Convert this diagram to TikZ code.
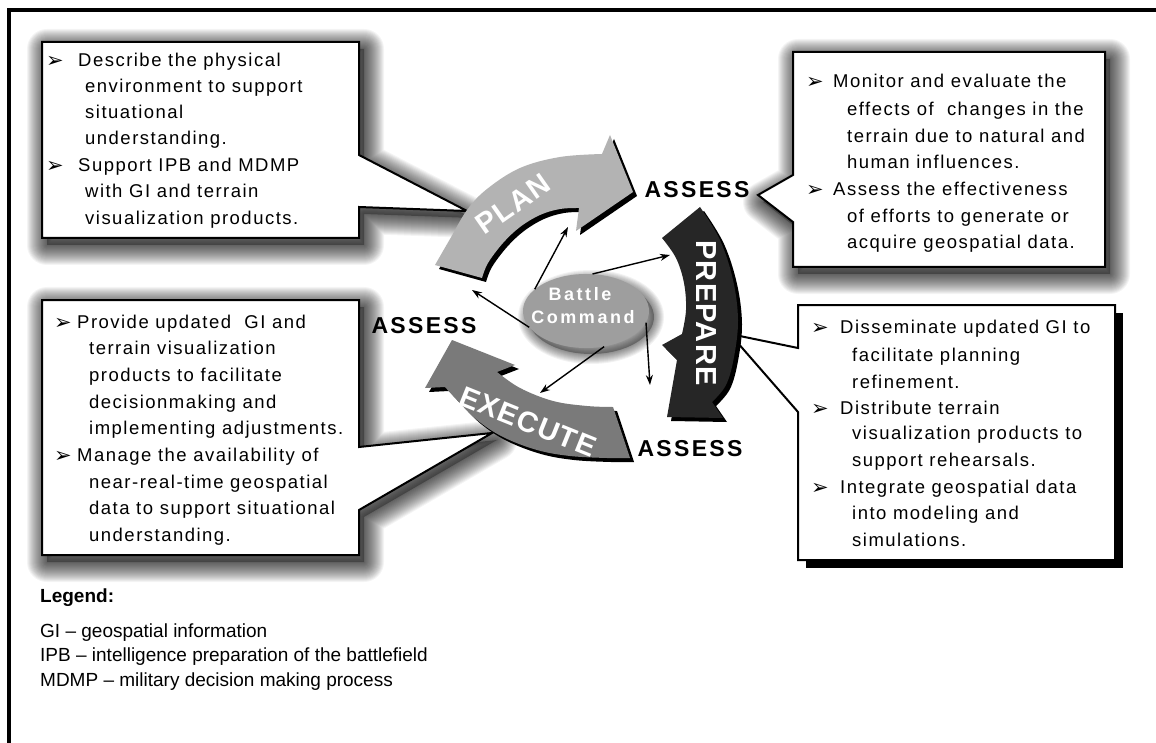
\documentclass[tikz,border=0pt]{standalone}
\usepackage{fontspec}
\usepackage{pdfrender}
\setmainfont{Liberation Sans}
\newfontfamily\boxfont{Liberation Sans}[LetterSpace=8]
\newfontfamily\wideboldfont{Liberation Sans}[LetterSpace=10]
\newfontfamily\bcfont{Liberation Sans Bold}[LetterSpace=14]
\newfontfamily\bigfont{Liberation Sans Bold}[LetterSpace=4]
\newfontfamily\dejavu{DejaVu Sans}
\usetikzlibrary{arrows.meta,shapes.geometric}
\definecolor{plangray}{HTML}{B3B3B3}
\definecolor{execgray}{HTML}{7A7A7A}
\definecolor{prepgray}{HTML}{262626}
\definecolor{ellgray}{HTML}{9E9E9E}
\newcommand\outlined[2]{{\special{pdf:bcolor [1] [0.1]}\textpdfrender{TextRenderingMode=FillStroke,LineWidth=#1,LineJoinStyle=1}{#2}\special{pdf:ecolor}}}
\tikzset{
  boxtext/.style={font=\boxfont\fontsize{18.5}{22}\selectfont, inner sep=0pt, anchor=base west},
  bulletmark/.style={font=\dejavu\fontsize{21}{22}\selectfont, inner sep=0pt, anchor=base west},
  assess/.style={font=\wideboldfont\bfseries\fontsize{23}{26}\selectfont, inner sep=0pt},
  arrowlabel/.style={font=\bigfont\fontsize{29}{30}\selectfont, inner sep=0pt},
  bclabel/.style={font=\bcfont\fontsize{18}{20}\selectfont, inner sep=0pt},
  legendbold/.style={font=\bfseries\fontsize{19}{22}\selectfont, inner sep=0pt, anchor=base west},
  legendtext/.style={font=\fontsize{19}{22}\selectfont, inner sep=0pt, anchor=base west},
  callout/.style={fill=white, draw=black, line width=2pt, line join=miter},
  conn/.style={line width=1.4pt, -{Stealth[length=10pt,width=7pt]}},
}
\def\tlpath{(42,42) -- (359,42) -- (359,155) -- (467,211) -- (359,207) -- (359,238) -- (42,238) -- cycle}
\def\trpath{(793,52) -- (1105,52) -- (1105,267) -- (793,267) -- (793,222) -- (758,195) -- (793,175) -- cycle}
\def\mlpath{(42,300) -- (359,300) -- (359,447) -- (492,433) -- (359,510) -- (359,555) -- (42,555) -- cycle}
\def\brpath{(798,305) -- (1115,305) -- (1115,560) -- (798,560) -- (798,412) -- (730,334) -- (798,348) -- cycle}
\def\planpath{(435,265) -- plot[smooth, tension=0.6] coordinates {(435,265) (450,239) (467,210) (487,189) (520,168) (560,157) (602,154)} -- (610,135) -- (633,192) -- (576,231) -- (579,208) -- plot[smooth, tension=0.6] coordinates {(579,208) (560,209) (540,215) (520,227) (503,243) (488,263) (482,278)} -- cycle}
\def\execpath{(452,340) -- (515,365) -- (497,372) -- plot[smooth, tension=0.6] coordinates {(497,372) (520,388) (553,401) (587,406) (613,407)} -- (630,458) -- plot[smooth, tension=0.6] coordinates {(630,458) (607,458) (570,456) (537,450) (503,437) (477,420) (457,400) (445,387)} -- (425,388) -- cycle}
\def\preppath{(662,238) -- (700,207) -- plot[smooth, tension=0.6] coordinates {(700,207) (720,240) (733,280) (738,320) (734,357) (726,385) (712,402)} -- (723,418) -- (667,417) -- (677,360) -- (662,345) -- (682,334) -- plot[smooth, tension=0.6] coordinates {(682,334) (686,310) (684,283) (676,258) (662,238)} -- cycle}
\newcommand\softshadow[2]{%
  \begin{scope}[shift={#2}]
    \foreach \w in {2,4,...,40} {\draw[black, draw opacity=0.045, line width=\w pt, line join=round] #1;}
    \fill[black, opacity=0.3] #1;
  \end{scope}}
\begin{document}
\begin{tikzpicture}[x=1pt, y=-1pt]
\useasboundingbox (0,0) rectangle (1156,743);
\fill[white] (0,0) rectangle (1156,743);
% frame
\draw[line width=3.5pt] (9,745) -- (9,10) -- (1160,10);
% callout shadows
\softshadow{\tlpath}{(5,7)}
\softshadow{\trpath}{(5,7)}
\softshadow{\mlpath}{(5,7)}
% callouts
\draw[callout] \tlpath;
\draw[callout] \trpath;
\draw[callout] \mlpath;
\fill[black] (806,313) rectangle (1123,568);
\draw[callout] \brpath;
% cycle arrows
\fill[black, shift={(4,4)}] \planpath;
\fill[plangray] \planpath;
\fill[black, shift={(4,4)}] \execpath;
\fill[execgray] \execpath;
\fill[black, shift={(4,4)}] \preppath;
\fill[prepgray] \preppath;
% battle command ellipse
\begin{scope}[shift={(5,6)}]
  \foreach \w in {2,4,...,20} {\draw[black, draw opacity=0.05, line width=\w pt] (586,311) ellipse [x radius=63, y radius=37];}
  \fill[black, opacity=0.3] (586,311) ellipse [x radius=63, y radius=37];
\end{scope}
\node[ellipse, minimum width=126pt, minimum height=74pt, fill=ellgray, inner sep=0pt] (bc) at (586,311) {};
% connector targets
\coordinate (t1) at (568,227);
\coordinate (t2) at (670,255);
\coordinate (t3) at (472,290);
\coordinate (t4) at (540,393);
\coordinate (t5) at (650,385);
\draw[conn] (bc.157) -- (t1);
\draw[conn] (bc.80) -- (t2);
\draw[conn] (bc.196) -- (t3);
\draw[conn] (bc.297) -- (t4);
\draw[conn] (bc.349) -- (t5);
% arrow labels
\node[arrowlabel, rotate=35] (plan) at (513,204) {\outlined{1.4pt}{PLAN}};
\node[arrowlabel, rotate=-90] (prep) at (706,313) {\outlined{1.4pt}{PREPARE}};
\node[arrowlabel, rotate=-22] (exec) at (528,422) {\outlined{1.4pt}{EXECUTE}};
\node[bclabel] (bc1) at (580,294) {\outlined{1pt}{Battle}};
\node[bclabel] (bc2) at (583,317) {\outlined{1pt}{Command}};
% assess labels
\node[assess] (as1) at (697,190) {ASSESS};
\node[assess] (as2) at (424,326) {ASSESS};
\node[assess] (as3) at (690,449) {ASSESS};
% top-left box text
\node[bulletmark] (tlb1) at (46,68) {➢};
\node[boxtext] (tl1) at (78,67) {Describe the physical};
\node[boxtext] (tl2) at (85,93) {environment to support};
\node[boxtext] (tl3) at (85,119) {situational};
\node[boxtext] (tl4) at (85,145) {understanding.};
\node[bulletmark] (tlb2) at (46,173) {➢};
\node[boxtext] (tl5) at (78,172) {Support IPB and MDMP};
\node[boxtext] (tl6) at (85,198) {with GI and terrain};
\node[boxtext] (tl7) at (85,225) {visualization products.};
% top-right box text
\node[bulletmark] (trb1) at (806,89) {➢};
\node[boxtext] (tr1) at (833,88) {Monitor and evaluate the};
\node[boxtext] (tr2) at (847,116) {effects of\ \ changes in the};
\node[boxtext] (tr3) at (847,143) {terrain due to natural and};
\node[boxtext] (tr4) at (847,169) {human influences.};
\node[bulletmark] (trb2) at (806,197) {➢};
\node[boxtext] (tr5) at (833,196) {Assess the effectiveness};
\node[boxtext] (tr6) at (847,223) {of efforts to generate or};
\node[boxtext] (tr7) at (847,249) {acquire geospatial data.};
% middle-left box text
\node[bulletmark] (mlb1) at (54,329) {➢};
\node[boxtext] (ml1) at (77,328) {Provide updated\ \ GI and};
\node[boxtext] (ml2) at (89,354) {terrain visualization};
\node[boxtext] (ml3) at (89,381) {products to facilitate};
\node[boxtext] (ml4) at (89,408) {decisionmaking and};
\node[boxtext] (ml5) at (89,434) {implementing adjustments.};
\node[bulletmark] (mlb2) at (54,462) {➢};
\node[boxtext] (ml6) at (77,461) {Manage the availability of};
\node[boxtext] (ml7) at (89,488) {near-real-time geospatial};
\node[boxtext] (ml8) at (89,514) {data to support situational};
\node[boxtext] (ml9) at (89,541) {understanding.};
% bottom-right box text
\node[bulletmark] (brb1) at (811,334) {➢};
\node[boxtext] (br1) at (840,333) {Disseminate updated GI to};
\node[boxtext] (br2) at (852,361) {facilitate planning};
\node[boxtext] (br3) at (852,388) {refinement.};
\node[bulletmark] (brb2) at (811,415) {➢};
\node[boxtext] (br4) at (840,414) {Distribute terrain};
\node[boxtext] (br5) at (852,439) {visualization products to};
\node[boxtext] (br6) at (852,466) {support rehearsals.};
\node[bulletmark] (brb3) at (811,494) {➢};
\node[boxtext] (br7) at (840,493) {Integrate geospatial data};
\node[boxtext] (br8) at (852,519) {into modeling and};
\node[boxtext] (br9) at (852,546) {simulations.};
% legend
\node[legendbold] (leg) at (40,602) {Legend:};
\node[legendtext] (lg1) at (40,637) {GI – geospatial information};
\node[legendtext] (lg2) at (40,661) {IPB – intelligence preparation of the battlefield};
\node[legendtext] (lg3) at (40,686) {MDMP – military decision making process};
\end{tikzpicture}
\end{document}
